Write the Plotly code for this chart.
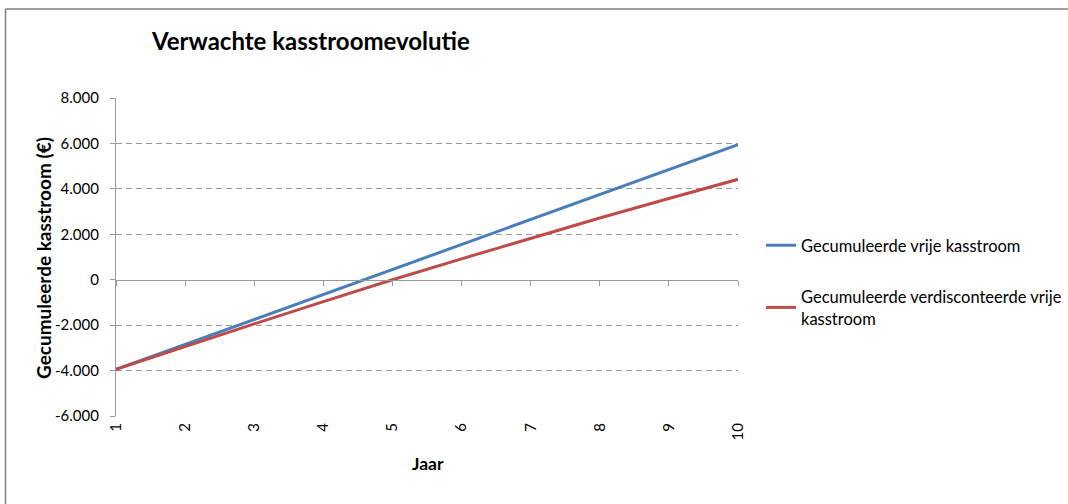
import plotly.graph_objects as go

years = [1, 2, 3, 4, 5, 6, 7, 8, 9, 10]
vrije = [-3950, -2850, -1750, -650, 450, 1550, 2650, 3750, 4850, 5950]
verdisconteerd = [-3950, -2940, -1945, -965, 0, 920, 1825, 2715, 3575, 4420]
ytickvals = [-6000, -4000, -2000, 0, 2000, 4000, 6000, 8000]
yticktext = ["-6.000", "-4.000", "-2.000", "0", "2.000", "4.000", "6.000", "8.000"]
gridvals = [-6000, -4000, -2000, 2000, 4000, 6000, 8000]
name1 = "Gecumuleerde vrije kasstroom"
name2 = "Gecumuleerde verdisconteerde vrije<br>kasstroom"

FONT = "Lato"
W, H = 1068, 504
L, R, T, B = 116, 738, 98, 416
AX = "#9a9a9a"

def px(x):
    return (x - L) / (R - L)

def py(y):
    return (B - y) / (B - T)

fig = go.Figure()
# invisible trace so that the gridline axis and the horizontal axis crossing at 0 are drawn
fig.add_trace(go.Scatter(x=years, y=vrije, mode="lines", xaxis="x2", yaxis="y2",
                         line=dict(width=0, color="rgba(0,0,0,0)"), showlegend=False,
                         hoverinfo="skip"))
fig.add_trace(go.Scatter(x=years, y=vrije, mode="lines", name=name1,
                         line=dict(color="#4a7ebb", width=3), legendgroup="a"))
fig.add_trace(go.Scatter(x=years, y=verdisconteerd, mode="lines", name=name2,
                         line=dict(color="#be4b48", width=3), legendgroup="b"))

fig.update_layout(
    width=W, height=H,
    margin=dict(l=L, r=W - R, t=T, b=H - B, autoexpand=False),
    paper_bgcolor="white", plot_bgcolor="white",
    font=dict(family=FONT, size=15, color="#000000"),
    separators=",.",
    showlegend=True,
    legend=dict(x=px(761), y=py(228), xanchor="left", yanchor="top",
                font=dict(family=FONT, size=16.5, color="#000000"),
                traceorder="grouped", tracegroupgap=27,
                itemwidth=30, bgcolor="rgba(0,0,0,0)"),
    xaxis=dict(range=[1, 10], tickvals=years, ticktext=[str(v) for v in years],
               tickangle=-90, showgrid=False, showline=False, zeroline=False,
               ticks="", tickfont=dict(size=15, color="#000000"), ticklabelstandoff=3),
    xaxis2=dict(range=[1, 10], tickvals=years, overlaying="x", anchor="free",
                position=py(280), side="bottom", showticklabels=False,
                showline=True, linecolor=AX, linewidth=1.3,
                ticks="outside", ticklen=5, tickcolor=AX, tickwidth=1.3,
                showgrid=False, zeroline=False),
    yaxis=dict(range=[-6000, 8000], tickvals=ytickvals, ticktext=yticktext,
               showgrid=False, zeroline=False, showline=True, linecolor=AX, linewidth=1.3,
               ticks="outside", ticklen=5, tickcolor=AX, tickwidth=1.3,
               ticklabelstandoff=8,
               tickfont=dict(size=15, color="#000000")),
    yaxis2=dict(range=[-6000, 8000], tickvals=gridvals, overlaying="y", side="left",
                showticklabels=False, ticks="", showline=False, zeroline=False,
                showgrid=True, gridcolor=AX, griddash="6px,4px", gridwidth=1.3),
)

fig.add_annotation(text="<b>Verwachte kasstroomevolutie</b>", xref="paper", yref="paper",
                   x=px(149), y=py(40), xanchor="left", yanchor="middle",
                   showarrow=False, font=dict(family=FONT, size=24, color="#000000"))
fig.add_annotation(text="<b>Gecumuleerde kasstroom (€)</b>", xref="paper", yref="paper",
                   x=px(43), y=py(258), xanchor="center", yanchor="middle", textangle=-90,
                   showarrow=False, font=dict(family=FONT, size=19, color="#000000"))
fig.add_annotation(text="<b>Jaar</b>", xref="paper", yref="paper",
                   x=px(428), y=py(463), xanchor="center", yanchor="middle",
                   showarrow=False, font=dict(family=FONT, size=17.5, color="#000000"))

# chart border (Excel chart area outline)
fig.add_shape(type="line", xref="paper", yref="paper", x0=px(5.5), x1=px(W + 5),
              y0=py(9), y1=py(9), line=dict(color="#7f7f7f", width=1.5))
fig.add_shape(type="line", xref="paper", yref="paper", x0=px(5.5), x1=px(5.5),
              y0=py(9), y1=py(H + 5), line=dict(color="#7f7f7f", width=1.5))

fig.write_html("out.html", config={"displayModeBar": False},
               post_script="document.body.style.margin='0';")
